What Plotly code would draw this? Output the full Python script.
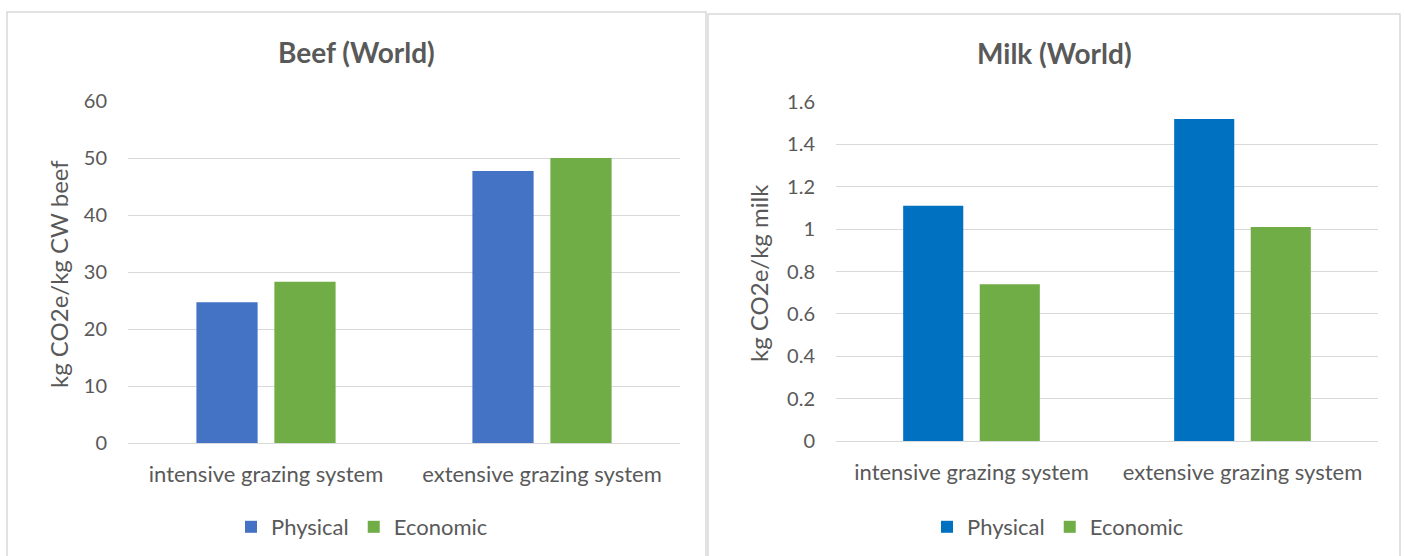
import plotly.graph_objects as go

categories = ["intensive grazing system", "extensive grazing system"]
series_names = ["Physical", "Economic"]
beef_physical = [24.7, 47.7]
beef_economic = [28.3, 50.0]
milk_physical = [1.11, 1.52]
milk_economic = [0.74, 1.01]
beef_ticks = [0, 10, 20, 30, 40, 50, 60]
milk_ticks = [0, 0.2, 0.4, 0.6, 0.8, 1.0, 1.2, 1.4, 1.6]
milk_tick_text = ["0", "0.2", "0.4", "0.6", "0.8", "1", "1.2", "1.4", "1.6"]

W, H = 1405, 556
FONT = "Lato"
GRAY = "#595959"
GRID = "#d9d9d9"
BLUE_BEEF = "#4472C4"
BLUE_MILK = "#0070C0"
GREEN = "#70AD47"


def px_x(x):
    return x / W


def px_y(y):
    return 1 - y / H


fig = go.Figure()
fig.add_trace(go.Bar(x=categories, y=beef_physical, name=series_names[0], marker_color=BLUE_BEEF,
                     xaxis="x", yaxis="y", legend="legend"))
fig.add_trace(go.Bar(x=categories, y=beef_economic, name=series_names[1], marker_color=GREEN,
                     xaxis="x", yaxis="y", legend="legend"))
fig.add_trace(go.Bar(x=categories, y=milk_physical, name=series_names[0], marker_color=BLUE_MILK,
                     xaxis="x2", yaxis="y2", legend="legend2"))
fig.add_trace(go.Bar(x=categories, y=milk_economic, name=series_names[1], marker_color=GREEN,
                     xaxis="x2", yaxis="y2", legend="legend2"))

ytickfont = dict(family=FONT, size=20, color=GRAY)
xtickfont = dict(family=FONT, size=22, color=GRAY)
xcommon = dict(showgrid=False, showline=True, linecolor=GRID, linewidth=1, zeroline=False,
               tickfont=xtickfont, ticks="", ticklabelstandoff=12, fixedrange=True,
               automargin=False)
ycommon = dict(showgrid=True, gridcolor=GRID, gridwidth=1, showline=False, zeroline=False,
               tickfont=ytickfont, ticks="", ticklabelstandoff=20, fixedrange=True,
               automargin=False)

fig.update_layout(
    template="none",
    width=W, height=H,
    margin=dict(l=0, r=0, t=0, b=0, pad=0, autoexpand=False),
    paper_bgcolor="white", plot_bgcolor="white",
    barmode="group", bargap=0.435, bargroupgap=0.215,
    font=dict(family=FONT, color=GRAY),
    xaxis=dict(domain=[px_x(128), px_x(680)], anchor="y", **xcommon),
    yaxis=dict(domain=[px_y(443), px_y(101)], anchor="x", range=[0, 60],
               tickvals=beef_ticks, **ycommon),
    xaxis2=dict(domain=[px_x(836), px_x(1378)], anchor="y2", **xcommon),
    yaxis2=dict(domain=[px_y(441), px_y(102)], anchor="x2", range=[0, 1.6],
                tickvals=milk_ticks, ticktext=milk_tick_text, **ycommon),
    legend=dict(orientation="h", x=px_x(362), y=px_y(527), xanchor="center", yanchor="middle",
                font=dict(family=FONT, size=22, color=GRAY), bgcolor="rgba(0,0,0,0)"),
    legend2=dict(orientation="h", x=px_x(1058), y=px_y(527), xanchor="center", yanchor="middle",
                 font=dict(family=FONT, size=22, color=GRAY), bgcolor="rgba(0,0,0,0)"),
    showlegend=True,
)

annotations = [
    dict(text="<b>Beef (World)</b>", x=px_x(356), y=px_y(52), xref="paper", yref="paper",
         showarrow=False, xanchor="center", yanchor="middle",
         font=dict(family=FONT, size=28, color=GRAY)),
    dict(text="<b>Milk (World)</b>", x=px_x(1054), y=px_y(53), xref="paper", yref="paper",
         showarrow=False, xanchor="center", yanchor="middle",
         font=dict(family=FONT, size=28, color=GRAY)),
    dict(text="kg CO2e/kg CW beef", x=px_x(58), y=px_y(274), xref="paper", yref="paper",
         showarrow=False, textangle=-90, xanchor="center", yanchor="middle",
         font=dict(family=FONT, size=24, color=GRAY)),
    dict(text="kg CO2e/kg milk", x=px_x(758), y=px_y(273), xref="paper", yref="paper",
         showarrow=False, textangle=-90, xanchor="center", yanchor="middle",
         font=dict(family=FONT, size=24, color=GRAY)),
]
fig.update_layout(annotations=annotations)

shapes = [
    dict(type="rect", xref="paper", yref="paper", x0=px_x(7), x1=px_x(706), y0=px_y(560), y1=px_y(12),
         line=dict(color=GRID, width=1.5), fillcolor="rgba(0,0,0,0)", layer="below"),
    dict(type="rect", xref="paper", yref="paper", x0=px_x(708), x1=px_x(1400), y0=px_y(560), y1=px_y(14),
         line=dict(color=GRID, width=1.5), fillcolor="rgba(0,0,0,0)", layer="below"),
]
fig.update_layout(shapes=shapes)

fig.write_html("out.html", post_script="document.body.style.margin='0';document.body.style.overflow='hidden';")
